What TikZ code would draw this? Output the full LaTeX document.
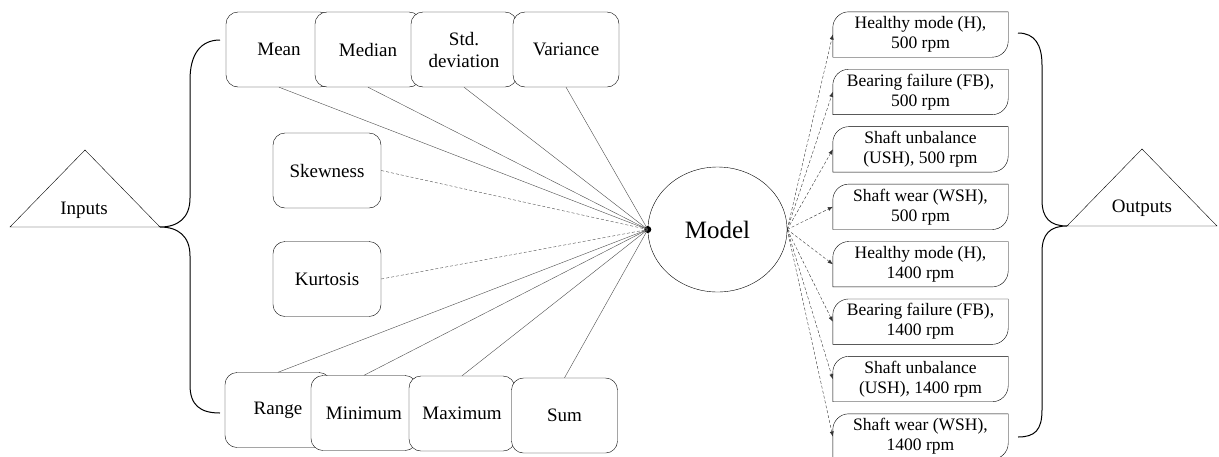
\documentclass[tikz,border=0pt]{standalone}
\usepackage{fontspec}
\setmainfont{Liberation Serif}
\usetikzlibrary{arrows.meta,shapes.geometric}
\tikzset{>=Latex,line width=.8pt,
  inbox/.style={draw,fill=white,rounded corners=12pt,minimum width=106pt,
    minimum height=75pt,align=center,font=\fontsize{19}{22}\selectfont},
  outbox/.style={minimum width=175pt,minimum height=45pt,inner sep=0pt,
    align=center,font=\fontsize{17.5}{20}\selectfont},
  feed/.style={draw=black!70,line width=.4pt},
  feeddash/.style={feed,densely dashed},
  result/.style={->,draw=black!80,line width=.4pt,densely dashed,
    >={Latex[length=5pt,width=4pt]}},
  brace/.style={draw,line width=1pt},
  tag/.style={font=\fontsize{19}{22}\selectfont}}

\begin{document}
\begin{tikzpicture}[x=1pt,y=-1pt]
\useasboundingbox (0,0) rectangle (1219,456);
% features
\node[inbox] (mean) at (279,49.5) {Mean};
\node[inbox] (median) at (368,49.5) {Median};
\node[inbox] (stddev) at (464,49.5) {Std.\\deviation};
\node[inbox] (variance) at (566,49.5) {Variance};
\node[inbox,minimum width=108pt] (skew) at (327,170.5) {Skewness};
\node[inbox,minimum width=108pt] (kurt) at (327,279) {Kurtosis};
\node[inbox] (range) at (278,410) {Range};
\node[inbox] (minimum) at (364,413) {Minimum};
\node[inbox] (maximum) at (462,413.5) {Maximum};
\node[inbox] (sum) at (564.5,415.5) {Sum};
% model
\node[ellipse,draw,minimum width=139pt,minimum height=125pt,
  font=\fontsize{25}{28}\selectfont] (model) at (717.5,229.5) {Model};
\node[circle,fill,inner sep=0pt,minimum size=7pt] (hub) at (model.west) {};
\foreach \n in {mean,median,stddev,variance} \draw[feed] (\n.south)--(hub.center);
\foreach \n in {range,minimum,maximum,sum} \draw[feed] (\n.north)--(hub.center);
\draw[feeddash] (skew.east)--(hub.center);\draw[feeddash] (kurt.east)--(hub.center);
% classes
\foreach \t [count=\i] in {{Healthy mode (H),\\500 rpm},{Bearing failure (FB),\\500 rpm},
  {Shaft unbalance\\(USH), 500 rpm},{Shaft wear (WSH),\\500 rpm},
  {Healthy mode (H),\\1400 rpm},{Bearing failure (FB),\\1400 rpm},
  {Shaft unbalance\\(USH), 1400 rpm},{Shaft wear (WSH),\\1400 rpm}}{
  \node[outbox] (o\i) at (920.5,{34.5+57.43*(\i-1)}) {\t};
  \draw ([yshift=-16pt]o\i.north west) arc[start angle=180,end angle=90,radius=16pt]
    -- (o\i.north east) -- ([yshift=16pt]o\i.south east)
    arc[start angle=0,end angle=-90,radius=16pt] -- (o\i.south west) -- cycle;
  \draw[result] (model.east)--(o\i.west);
}
% braces and triangles
\draw[brace] (220,40) .. controls (200,40) and (190,55) .. (190,80) -- (190,198)
  .. controls (190,218) and (178,227) .. (160,227) .. controls (178,227) and (190,236) .. (190,256)
  -- (190,385) .. controls (190,405) and (200,413) .. (220,413);
\draw[brace] (1018,33) .. controls (1035,33) and (1042,45) .. (1042,65) -- (1042,200)
  .. controls (1042,218) and (1050,226) .. (1067,226) .. controls (1050,226) and (1042,234) .. (1042,252)
  -- (1042,410) .. controls (1042,430) and (1035,437) .. (1018,437);
\node[tag] (inputs) at (84,210) {Inputs};
\node[tag] (outputs) at (1142,208) {Outputs};
\draw (85,150)--(160,227)--(10,227)--cycle;
\draw (1142,149)--(1217,226)--(1067,226)--cycle;
\end{tikzpicture}
\end{document}
